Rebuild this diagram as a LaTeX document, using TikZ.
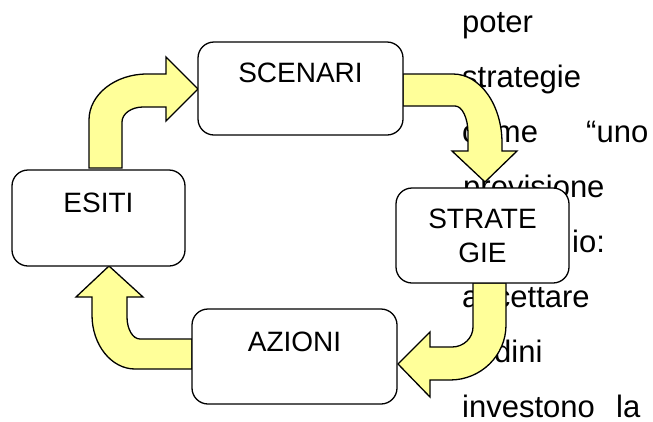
\documentclass[tikz,border=0pt]{standalone}
\usepackage{fontspec}
\setmainfont{Liberation Sans}
\usetikzlibrary{calc}
\definecolor{arrowyellow}{RGB}{255,255,153}
\begin{document}
\begin{tikzpicture}[x=1pt,y=-1pt,
  box/.style={draw, line width=1.3pt, rounded corners=16pt, fill=white, inner sep=0pt, outer sep=0pt, anchor=north west},
  fatarrow/.style={draw, line width=1.3pt, fill=arrowyellow, line join=miter},
  bgtext/.style={anchor=base west, inner sep=0pt, font=\fontsize{31}{31}\selectfont},
  lbl/.style={anchor=base, inner sep=0pt, font=\fontsize{28}{28}\selectfont}]
\useasboundingbox (0,0) rectangle (653,421);
% background text
\node[bgtext] (t1) at (462,32) {poter};
\node[bgtext] (t2) at (462,87) {strategie};
\node[bgtext] (t3) at (462,142) {come};
\node[bgtext] (t3b) at (586,142) {“uno};
\node[bgtext] (t4) at (463,197) {previsione};
\node[bgtext] (t5) at (572,252) {io:};
\node[bgtext] (t6) at (462,307) {accettare};
\node[bgtext] (t7) at (494,362) {dini};
\node[bgtext] (t8) at (462,417) {investono};
\node[bgtext] (t8b) at (616,417) {la};
% arrows
\draw[fatarrow] (89,168) -- (89,120) .. controls (89,94.6) and (115,74) .. (147,74) -- (166,74) -- (166,57) -- (198,89) -- (166,121) -- (166,107) -- (143,107) .. controls (131.4,107) and (122,113.7) .. (122,122) -- (122,168) -- cycle;
\draw[fatarrow] (403,74) -- (453,74) .. controls (480.1,74) and (502,104.9) .. (502,143) -- (502,151) -- (517,151) -- (485,182) -- (452,151) -- (468,151) -- (468,133) .. controls (468,118.1) and (462.2,106) .. (455,106) -- (403,106) -- cycle;
\draw[fatarrow] (473,283) -- (473,327) .. controls (473,338) and (463.6,347) .. (452,347) -- (430,347) -- (430,332) -- (398,364) -- (430,397) -- (430,380) -- (450,380) .. controls (480.9,380) and (506,355.4) .. (506,325) -- (506,283) -- cycle;
\draw[fatarrow] (192,339) -- (140,339) .. controls (132.8,339) and (127,329.2) .. (127,317) -- (127,297) -- (143,297) -- (109,266) -- (76,297) -- (92,297) -- (92,315) .. controls (92,344.8) and (111.3,369) .. (135,369) -- (192,369) -- cycle;
% boxes
\node[box, minimum width=205pt, minimum height=93pt] (scenari) at (198,42) {};
\node[box, minimum width=173pt, minimum height=96pt] (esiti) at (12,170) {};
\node[box, minimum width=205pt, minimum height=95pt] (azioni) at (192,309) {};
\node[box, minimum width=173pt, minimum height=95pt] (strategie) at (396,188) {};
\node[lbl] (ls) at ($(scenari.north)+(0,40)$) {SCENARI};
\node[lbl] (le) at ($(esiti.north)+(0,42)$) {ESITI};
\node[lbl] (la) at ($(azioni.north)+(0,42)$) {AZIONI};
\node[lbl] (lg1) at ($(strategie.north)+(0,40)$) {STRATE};
\node[lbl] (lg2) at ($(strategie.north)+(0,74)$) {GIE};
\end{tikzpicture}
\end{document}
